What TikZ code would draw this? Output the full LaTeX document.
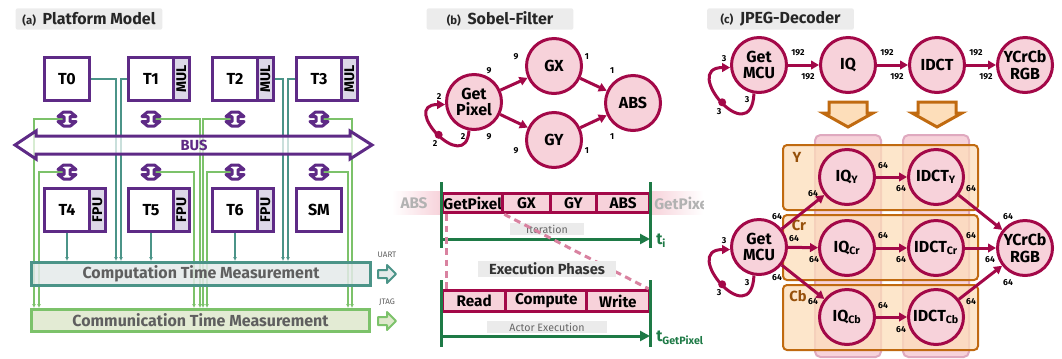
\documentclass[tikz,border=0pt]{standalone}
\usepackage{fontspec}
\setmainfont{Fira Sans}
\usetikzlibrary{positioning,arrows.meta,backgrounds}

\definecolor{tilepurple}{RGB}{94,42,134}
\definecolor{unitfill}{RGB}{221,216,232}
\definecolor{compteal}{RGB}{75,148,136}
\definecolor{compfill}{RGB}{228,234,234}
\definecolor{commgreen}{RGB}{124,194,106}
\definecolor{commfill}{RGB}{222,232,204}
\definecolor{boxtext}{RGB}{95,95,95}
\definecolor{actorred}{RGB}{163,8,72}
\definecolor{actorfill}{RGB}{247,210,218}
\definecolor{dashpink}{RGB}{217,130,160}
\definecolor{timegreen}{RGB}{30,122,70}
\definecolor{splitorange}{RGB}{192,106,16}
\definecolor{splitfill}{RGB}{253,222,186}
\definecolor{rowtext}{RGB}{150,80,10}
\definecolor{titlegray}{RGB}{236,236,236}

\newcommand{\panelhead}[2]{{\fontsize{8.5}{9}\selectfont\bfseries(#1)}\hspace{5pt}{\fontsize{12}{13}\selectfont\bfseries #2}}

\tikzset{
	paneltitle/.style={fill=titlegray, rounded corners=1.5pt, minimum width=110pt, minimum height=16pt, inner sep=0pt, text=black!85},
	tile/.style={draw=tilepurple, fill=white, line width=2.25pt, minimum width=33.75pt, minimum height=32.25pt, inner sep=0pt, font=\fontsize{12}{13}\selectfont\bfseries},
	accel/.style={draw=tilepurple, fill=unitfill, line width=2.25pt, minimum width=12pt, minimum height=32.25pt, inner sep=0pt, font=\fontsize{10.5}{11}\selectfont\bfseries},
	busline/.style={draw=tilepurple, fill=white, fill opacity=0.7, line width=2.25pt},
	buslabel/.style={text=tilepurple, inner sep=0pt, font=\fontsize{11}{12}\selectfont\bfseries},
	link/.pic={\filldraw[draw=tilepurple, fill=white, line width=2.25pt, line join=round] (-3.5,-7) -- (3.5,-7) -- (9,-2.5) -- (3,-2.5) -- (3,2.5) -- (9,2.5) -- (3.5,7) -- (-3.5,7) -- (-9,2.5) -- (-3,2.5) -- (-3,-2.5) -- (-9,-2.5) -- cycle;},
	measure/.style={line width=2.25pt, fill opacity=0.85, text opacity=1, text=boxtext, inner sep=0pt, minimum width=254pt, minimum height=17.25pt, font=\fontsize{12}{13}\selectfont\bfseries},
	compline/.style={draw=compteal, line width=1.2pt, -{Latex[length=3pt,width=3pt]}},
	commline/.style={draw=commgreen, line width=1.2pt, -{Latex[length=3pt,width=3pt]}},
	portlabel/.style={text=boxtext, inner sep=0pt, font=\fontsize{6}{7}\selectfont},
	portarrow/.pic={\filldraw[line width=1.5pt, line join=round] (0,-4) -- (9,-4) -- (9,-9) -- (18,0) -- (9,9) -- (9,4) -- (0,4) -- cycle;},
	actor/.style={circle, draw=actorred, fill=actorfill, line width=2.25pt, minimum size=41.25pt, inner sep=0pt, align=center, font=\fontsize{12}{12.5}\selectfont\bfseries},
	flow/.style={draw=actorred, line width=2.25pt, -{Triangle[length=6pt,width=6.5pt]}},
	token/.style={circle, fill=actorred, inner sep=0pt, minimum size=6pt},
	rate/.style={inner sep=0pt, font=\fontsize{6.5}{7}\selectfont\bfseries},
	phase/.style={draw=actorred, fill=actorfill, line width=2.25pt, minimum height=14.7pt, inner sep=0.5pt, font=\fontsize{11.5}{12}\selectfont\bfseries},
	ghost/.style={text=black!30, inner sep=0pt, font=\fontsize{11.5}{12}\selectfont\bfseries},
	phaselink/.style={draw=dashpink, line width=2.25pt, dash pattern=on 5pt off 3.5pt},
	ruler/.style={draw=timegreen, line width=2.25pt},
	timearrow/.style={draw=timegreen, line width=2.25pt, -{Triangle[length=7.5pt,width=7.5pt]}},
	timelabel/.style={text=timegreen, inner sep=0pt, font=\fontsize{12}{13}\selectfont\bfseries},
	tag/.style={fill=black!8, text=black!60, inner sep=0pt, minimum height=9pt, font=\fontsize{8}{9}\selectfont},
	splitarrow/.pic={\filldraw[draw=splitorange, fill=splitfill, line width=2.25pt] (-19,0) -- (19,0) -- (19,11) -- (25,11) -- (0,25) -- (-25,11) -- (-19,11) -- cycle;},
	stagecol/.style={draw=actorred!35, fill=actorfill, line width=1.5pt, rounded corners=4pt},
	chanrow/.style={draw=splitorange, fill=splitfill, fill opacity=0.75, line width=1.5pt, rounded corners=3pt},
	chanlabel/.style={text=rowtext, inner sep=0pt, font=\fontsize{11}{12}\selectfont\bfseries}
}

\begin{document}
\begin{tikzpicture}[x=0.75pt,y=-0.75pt]
	\useasboundingbox (0,0) rectangle (1062,358);

	\node[paneltitle] (ta) at (89,19) {\panelhead{a}{Platform Model}};
	\node[tile] (t0) at (67,79) {T0};
	\node[tile] (t1) at (151,79) {T1};
	\node[accel, right=-2.25pt of t1] (mul1) {\rotatebox{90}{MUL}};
	\node[tile] (t2) at (235,79) {T2};
	\node[accel, right=-2.25pt of t2] (mul2) {\rotatebox{90}{MUL}};
	\node[tile] (t3) at (319,79) {T3};
	\node[accel, right=-2.25pt of t3] (mul3) {\rotatebox{90}{MUL}};
	\node[tile] (t4) at (67,210) {T4};
	\node[accel, right=-2.25pt of t4] (fpu4) {\rotatebox{90}{FPU}};
	\node[tile] (t5) at (151,210) {T5};
	\node[accel, right=-2.25pt of t5] (fpu5) {\rotatebox{90}{FPU}};
	\node[tile] (t6) at (235,210) {T6};
	\node[accel, right=-2.25pt of t6] (fpu6) {\rotatebox{90}{FPU}};
	\node[tile] (sm) at (319,210) {SM};

	\filldraw[busline] (15,145) -- (36,131) -- (36,136) -- (350,136) -- (350,131) -- (372,145) -- (350,159) -- (350,154) -- (36,154) -- (36,159) -- cycle;
	\node[buslabel] (bus) at (194,145) {BUS};
	\foreach \x [count=\i from 0] in {67,151,235,319} {
		\coordinate (lu\i) at (\x,119);
		\coordinate (ll\i) at (\x,172);
		\pic at (lu\i) {link};
		\pic at (ll\i) {link};
	}

	\node[measure, draw=compteal, fill=compfill] (comp) at (201,274) {Computation Time Measurement};
	\node[measure, draw=commgreen, fill=commfill, minimum height=16.5pt] (comm) at (200.5,320.5) {Communication Time Measurement};
	\node[portlabel] (uart) at (387,255) {UART};
	\pic[draw=compteal, fill=compfill] at (378,274) {portarrow};
	\node[portlabel] (jtag) at (387,302) {JTAG};
	\pic[draw=commgreen, fill=commfill] at (378,321) {portarrow};

	\begin{scope}[on background layer]
		\draw[compline] (t0.east) -| (116,0 |- comp.north);
		\draw[compline] (t1.west) -| (121,0 |- comp.north);
		\draw[compline] (mul2.east) -| (283,0 |- comp.north);
		\draw[compline] (t3.west) -| (288,0 |- comp.north);
		\draw[compline] (t4) -- (t4 |- comp.north);
		\draw[compline] (t5) -- (t5 |- comp.north);
		\draw[compline] (t6) -- (t6 |- comp.north);
		\draw[commline] (lu0) -| (34,0 |- comm.north);
		\draw[commline] (ll0) -| (39,0 |- comm.north);
		\draw[commline] (lu1) -| (200,0 |- comm.north);
		\draw[commline] (ll1) -| (194,0 |- comm.north);
		\draw[commline] (lu2) -| (203,0 |- comm.north);
		\draw[commline] (ll2) -| (207,0 |- comm.north);
		\draw[commline] (lu3) -| (352,0 |- comm.north);
		\draw[commline] (ll3) -| (348,0 |- comm.north);
	\end{scope}

	\node[paneltitle] (tb) at (500,19) {\panelhead{b}{Sobel-Filter}};
	\node[actor] (gp) at (474,102) {Get\\Pixel};
	\node[actor] (gx) at (554,66) {GX};
	\node[actor] (gy) at (554,140) {GY};
	\node[actor] (abs) at (633,103) {ABS};
	\draw[flow] (gp) -- (gx);
	\draw[flow] (gp) -- (gy);
	\draw[flow] (gx) -- (abs);
	\draw[flow] (gy) -- (abs);
	\draw[flow] (gp.-100) .. controls +(-3,46) and +(-46,0) .. (gp.185) node[token, pos=0.5] (gpd) {};
	\node[rate] (w1) at (489,71) {9};
	\node[rate] (w2) at (516,57) {9};
	\node[rate] (w3) at (587,57) {1};
	\node[rate] (w4) at (612,71) {1};
	\node[rate] (w5) at (489,137) {9};
	\node[rate] (w6) at (516,151) {9};
	\node[rate] (w7) at (587,151) {1};
	\node[rate] (w8) at (612,137) {1};
	\node[rate] (w9) at (439,97) {2};
	\node[rate] (w10) at (463,137) {2};
	\node[rate] (w11) at (435,144) {2};

	\shade[left color=white, right color=actorfill] (392,191) rectangle (441,214);
	\shade[left color=actorfill, right color=white] (650,191) rectangle (703,214);
	\node[ghost] (ghabs) at (414,203) {ABS};
	\begin{scope}
		\clip (650,185) rectangle (703,220);
		\node[ghost, anchor=west] (ghgp) at (654,203) {GetPixel};
	\end{scope}
	\node[phase, anchor=west, minimum width=45.2pt] (ph1) at (441,203) {GetPixel};
	\node[phase, right=-2.25pt of ph1, minimum width=35.5pt] (ph2) {GX};
	\node[phase, right=-2.25pt of ph2, minimum width=35pt] (ph3) {GY};
	\node[phase, right=-2.25pt of ph3, minimum width=39.4pt] (ph4) {ABS};
	\draw[ruler] (441,182) -- (441,248);
	\draw[ruler] (650,182) -- (650,248);
	\coordinate (i0) at (441,239);
	\coordinate (i1) at (650,239);
	\draw[timearrow] (i0) -- (i1);
	\node[timelabel, anchor=west] (ti) at (656,241) {t\textsubscript{i}};
	\node[tag, minimum width=55pt] (iter) at (547,229) {Iteration};

	\node[phase, anchor=west, minimum width=47.6pt, minimum height=16pt] (rd) at (441,301) {Read};
	\node[phase, right=-2.25pt of rd, minimum width=60.5pt, minimum height=16pt] (cp) {Compute};
	\node[phase, right=-2.25pt of cp, minimum width=46.9pt, minimum height=16pt] (wr) {Write};
	\draw[phaselink] ([xshift=3.75pt]ph1.south west) -- ([xshift=3.75pt]rd.north west);
	\draw[phaselink] (ph1.south east) -- ([xshift=-1.5pt]wr.north east);
	\node[tag, minimum width=104pt, minimum height=12pt, text=black!80, font=\fontsize{11}{12}\selectfont\bfseries] (exph) at (547,269) {Execution Phases};
	\draw[ruler] (441,280) -- (441,347);
	\draw[ruler] (650,280) -- (650,347);
	\coordinate (a0) at (441,336);
	\coordinate (a1) at (650,336);
	\draw[timearrow] (a0) -- (a1);
	\node[timelabel, anchor=west] (tgp) at (656,338) {t\textsubscript{GetPixel}};
	\node[tag, minimum width=90pt] (actex) at (547,327) {Actor Execution};

	\node[paneltitle] (tc) at (780.5,19) {\panelhead{c}{JPEG-Decoder}};
	\node[actor] (gm) at (759,65) {Get\\MCU};
	\node[actor] (iq) at (848,65) {IQ};
	\node[actor] (idct) at (937,65) {IDCT};
	\node[actor] (rgb) at (1025,65) {YCrCb\\RGB};
	\draw[flow] (gm) -- (iq);
	\draw[flow] (iq) -- (idct);
	\draw[flow] (idct) -- (rgb);
	\draw[flow] (gm.-100) .. controls +(-3,58) and +(-50,0) .. (gm.185) node[token, pos=0.5] (gmd) {};
	\node[rate] (v1) at (724,59) {3};
	\node[rate] (v2) at (747,100) {3};
	\node[rate] (v3) at (719,112) {3};
	\node[rate] (v4) at (798,53) {192};
	\node[rate] (v5) at (808,77) {192};
	\node[rate] (v6) at (887,53) {192};
	\node[rate] (v7) at (897,77) {192};
	\node[rate] (v8) at (976,53) {192};
	\node[rate] (v9) at (986,77) {192};
	\pic at ([yshift=-6pt]iq.south) {splitarrow};
	\pic at ([yshift=-6pt]idct.south) {splitarrow};

	\filldraw[stagecol] (815,135) rectangle (881,357);
	\filldraw[stagecol] (903,135) rectangle (969,357);
	\filldraw[chanrow] (783,145) rectangle (978,210);
	\filldraw[chanrow] (783,215) rectangle (978,280);
	\filldraw[chanrow] (783,285) rectangle (978,350);
	\node[chanlabel] (ly) at (797,157) {Y};
	\node[chanlabel] (lcr) at (799,225) {Cr};
	\node[chanlabel] (lcb) at (798,296) {Cb};

	\node[actor] (gmb) at (759,247) {Get\\MCU};
	\node[actor] (iqy) at (847,177) {IQ\textsubscript{Y}};
	\node[actor] (idcty) at (936,177) {IDCT\textsubscript{Y}};
	\node[actor] (iqcr) at (847,248) {IQ\textsubscript{Cr}};
	\node[actor] (idctcr) at (936,248) {IDCT\textsubscript{Cr}};
	\node[actor] (iqcb) at (847,317) {IQ\textsubscript{Cb}};
	\node[actor] (idctcb) at (936,317) {IDCT\textsubscript{Cb}};
	\node[actor] (rgbb) at (1025,248) {YCrCb\\RGB};
	\draw[flow] (gmb) -- (iqy);
	\draw[flow] (gmb) -- (iqcr);
	\draw[flow] (gmb) -- (iqcb);
	\draw[flow] (iqy) -- (idcty);
	\draw[flow] (iqcr) -- (idctcr);
	\draw[flow] (iqcb) -- (idctcb);
	\draw[flow] (idcty) -- (rgbb);
	\draw[flow] (idctcr) -- (rgbb);
	\draw[flow] (idctcb) -- (rgbb);
	\draw[flow] (gmb.-100) .. controls +(-3,58) and +(-50,0) .. (gmb.185) node[token, pos=0.5] (gmbd) {};
	\node[rate] (u1) at (724,241) {3};
	\node[rate] (u2) at (747,283) {3};
	\node[rate] (u3) at (719,293) {3};
	\node[rate] (u4) at (777,217) {64};
	\node[rate] (u5) at (813,194) {64};
	\node[rate] (u6) at (794,239) {64};
	\node[rate] (u7) at (814,260) {64};
	\node[rate] (u8) at (777,278) {64};
	\node[rate] (u9) at (813,302) {64};
	\node[rate] (u10) at (883,166) {64};
	\node[rate] (u11) at (901,189) {64};
	\node[rate] (u12) at (883,236) {64};
	\node[rate] (u13) at (901,260) {64};
	\node[rate] (u14) at (883,306) {64};
	\node[rate] (u15) at (901,330) {64};
	\node[rate] (u16) at (971,189) {64};
	\node[rate] (u17) at (1008,217) {64};
	\node[rate] (u18) at (971,236) {64};
	\node[rate] (u19) at (990,260) {64};
	\node[rate] (u20) at (971,302) {64};
	\node[rate] (u21) at (1008,283) {64};
\end{tikzpicture}
\end{document}
